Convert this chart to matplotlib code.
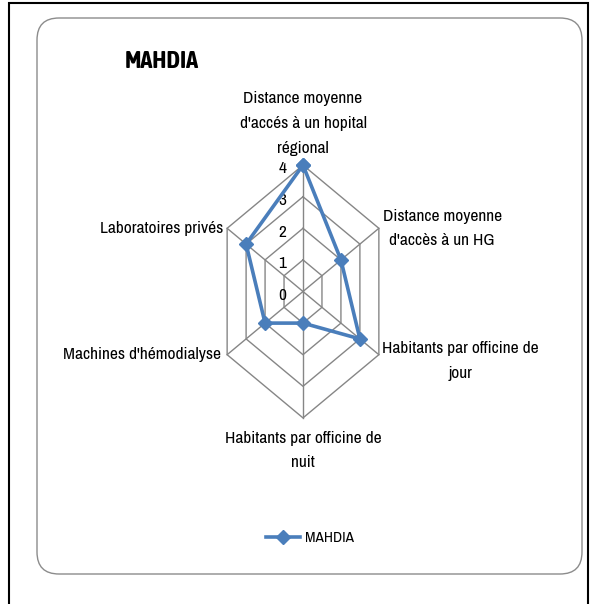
import numpy as np
import matplotlib
matplotlib.use("Agg")
import matplotlib.pyplot as plt
from matplotlib.patches import FancyBboxPatch, Rectangle
from matplotlib.transforms import IdentityTransform

# data
categories = ["Distance moyenne\nd'accés à un hopital\nrégional",
              "Distance moyenne\nd'accès à un HG",
              "Habitants par officine de\njour",
              "Habitants par officine de\nnuit",
              "Machines d'hémodialyse",
              "Laboratoires privés"]
values = [4, 2, 3, 1, 2, 3]
ticks = [0, 1, 2, 3, 4]
series_name = "MAHDIA"

plt.rcParams["font.family"] = ["Archivo Narrow", "Carlito", "DejaVu Sans"]
BLUE = "#4a7ebb"
GRID = "#868686"

W, H = 591, 604
fig = plt.figure(figsize=(W / 100, H / 100), dpi=100)

# outer frame and rounded chart area (pixel coords)
fig.patches.append(Rectangle((9, -5), 579, 606, transform=IdentityTransform(),
                             fill=False, edgecolor="black", linewidth=1.5))
fig.patches.append(FancyBboxPatch((37, 30), 545, 556, transform=IdentityTransform(),
                                  boxstyle="round,pad=0,rounding_size=22",
                                  fill=False, edgecolor="#8c8c8c", linewidth=1.0))

# radar drawn on a cartesian axes, x squeezed like the original
cx, cy = 303, 604 - 291.5
sx, sy = 21.9, 31.6
ax = fig.add_axes([0, 0, 1, 1])
ax.set_xlim(-cx / sx, (W - cx) / sx)
ax.set_ylim(-cy / sy, (H - cy) / sy)
ax.axis("off")

n = len(categories)
theta = np.arange(n) * 2 * np.pi / n
ux, uy = np.sin(theta), np.cos(theta)
rmax = max(ticks)

# grid rings and spokes
for t in ticks[1:]:
    ax.plot(np.append(ux, ux[0]) * t, np.append(uy, uy[0]) * t, color=GRID, lw=1.0, zorder=1)
for i in range(n):
    ax.plot([0, ux[i] * rmax], [0, uy[i] * rmax], color=GRID, lw=1.0, zorder=1)

# series
v = np.array(values, dtype=float)
ax.plot(np.append(ux * v, ux[0] * v[0]), np.append(uy * v, uy[0] * v[0]),
        color=BLUE, lw=2.6, marker="D", markersize=7, zorder=3, label=series_name)

# radial tick labels
for t in ticks:
    ax.text(-0.75, t - 0.12, str(t), ha="right", va="center", fontsize=12.5, zorder=2)

# category labels
lbl = dict(fontsize=12.5, multialignment="center", linespacing=1.8)
ax.text(0, 4.3, categories[0], ha="center", va="bottom", **lbl)
ax.text(6.35, 2.0, categories[1], ha="center", va="center", **lbl)
ax.text(7.2, -2.2, categories[2], ha="center", va="center", **lbl)
ax.text(0, -4.4, categories[3], ha="center", va="top", **lbl)
ax.text(-3.75, -2.0, categories[4], ha="right", va="center", **lbl)
ax.text(-3.65, 2.0, categories[5], ha="right", va="center", **lbl)

fig.text(125 / W, 1 - 61 / H, "MAHDIA", fontsize=17.5, fontweight="bold",
         family=["Asap Condensed", "DejaVu Sans"], ha="left", va="center")

fig.legend(loc="center", bbox_to_anchor=(310 / W, 1 - 538 / H), frameon=False,
           fontsize=11, handlelength=2.2, handletextpad=0.3)

fig.savefig("out.png", dpi=100)
